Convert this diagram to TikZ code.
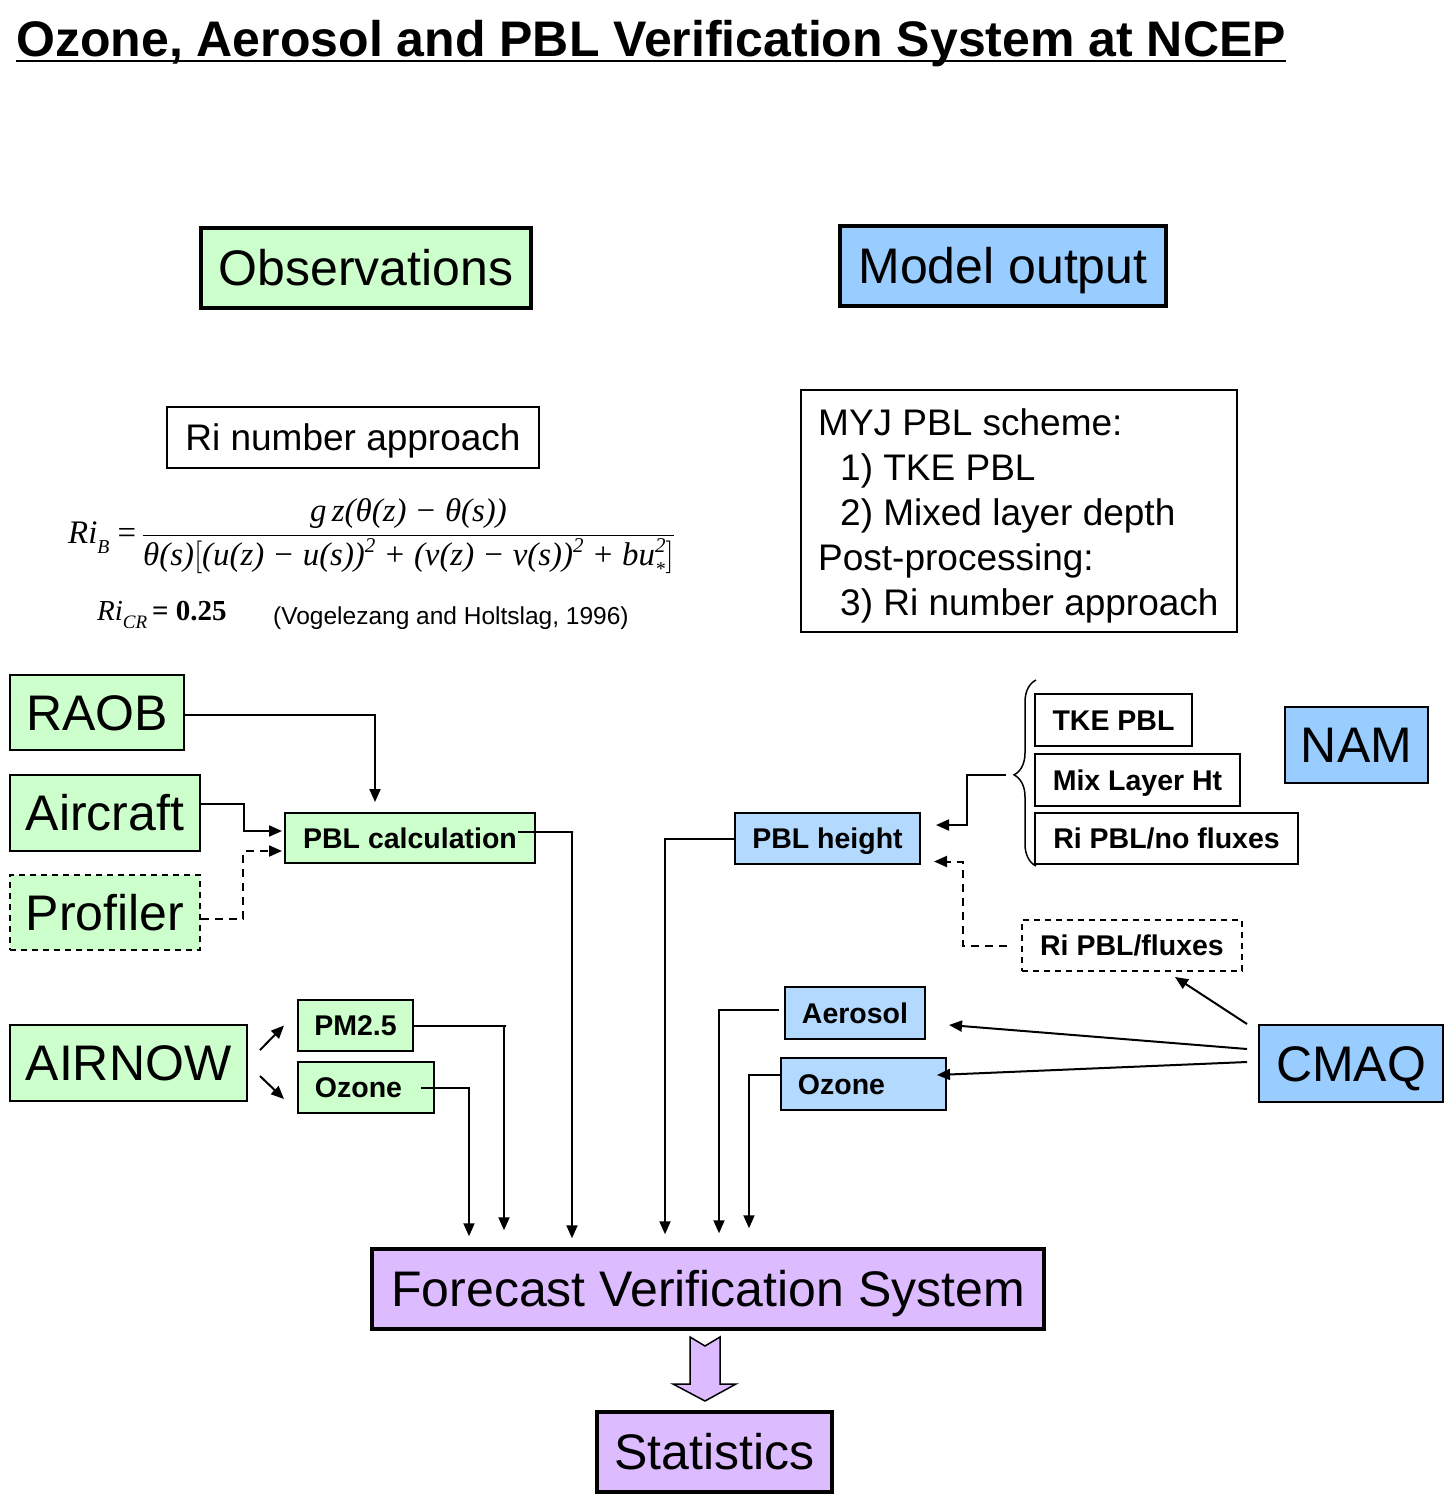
\documentclass[tikz,border=0pt]{standalone}
\usepackage{fontspec}
\setmainfont{Liberation Sans}
\newfontfamily\tms{Liberation Serif}
\usepackage{graphicx}
\usetikzlibrary{arrows.meta,decorations.pathreplacing}
\definecolor{obsgreen}{HTML}{CCFFCC}
\definecolor{modblue}{HTML}{99CCFF}
\definecolor{ltblue}{HTML}{B3D9FF}
\definecolor{fvspurple}{HTML}{DCBCFF}
\newcommand{\sqr}{\raisebox{0.42em}{\fontsize{16}{16}\selectfont 2}}
\newcommand{\lowsub}[2][15]{\raisebox{-0.3em}{\fontsize{#1}{#1}\selectfont #2}}
\begin{document}
\begin{tikzpicture}[x=1pt,y=-1pt,
  box/.style={draw=black,line width=2pt,inner sep=0pt,text depth=0pt},
  thickbox/.style={box,line width=3.5pt},
  wh/.style 2 args={minimum width=#1pt,minimum height=#2pt},
  big/.style={font=\fontsize{50}{60}\selectfont,text height=35.8pt},
  mid/.style={font=\fontsize{37}{45}\selectfont},
  small/.style={font=\fontsize{28.5}{34}\selectfont\bfseries,text height=20.4pt},
  green/.style={fill=obsgreen},
  blue/.style={fill=modblue},
  lblue/.style={fill=ltblue},
  purple/.style={fill=fvspurple},
  dashbox/.style={dash pattern=on 6pt off 5pt},
  conn/.style={line width=2pt,-{Triangle[length=13pt,width=11pt]}},
  dconn/.style={conn,dash pattern=on 8pt off 6pt},
  txt/.style={inner sep=0pt,anchor=base west},
]
\useasboundingbox (0,0) rectangle (1444,1494);

% title
\node[txt,font=\fontsize{50}{60}\selectfont\bfseries] (title) at (16,56) {Ozone, Aerosol and PBL Verification System at NCEP};
\draw[line width=2.5pt] ([yshift=-5pt]title.base west) -- ([yshift=-5pt]title.base east);

% headers
\node[thickbox,green,big,wh={330}{80}] (obs) at (366,268) {Observations};
\node[thickbox,blue,big,wh={326}{80}] (model) at (1003,266) {Model output};

% Ri number approach
\node[box,line width=1.5pt,mid,text height=26.5pt,wh={372}{61}] (ri) at (353,437.5) {Ri number approach};
\node[inner sep=0pt,anchor=west,font=\fontsize{25}{30}\selectfont\tms] (formula) at (68,537) {\resizebox{607pt}{!}{\itshape Ri\lowsub{B}\upshape\ =\,$\displaystyle\frac{\mbox{\itshape g\,z(θ(z) − θ(s))}}{\mbox{\itshape θ(s)}\Bigl[\mbox{\itshape (u(z) − u(s))\sqr\ + (v(z) − v(s))\sqr\ + bu\rlap{\lowsub{*}}\sqr}\Bigr]}$}};
\node[inner sep=0pt,anchor=west,font=\fontsize{29}{34}\selectfont\tms] (ricr) at (97,615) {\itshape Ri\lowsub[19]{CR}\upshape\bfseries\,= 0.25};
\node[inner sep=0pt,anchor=west,font=\fontsize{24.5}{30}\selectfont] (ref) at (273,618) {(Vogelezang and Holtslag, 1996)};

% MYJ box
\node[box,line width=1.5pt,wh={436}{242}] (myj) at (1019,511) {};
\node[txt,mid] (m1) at (818,435) {MYJ PBL scheme:};
\node[txt,mid] (m2) at (840,480) {1) TKE PBL};
\node[txt,mid] (m3) at (840,525) {2) Mixed layer depth};
\node[txt,mid] (m4) at (818,570) {Post-processing:};
\node[txt,mid] (m5) at (840,615) {3) Ri number approach};

% observation boxes
\node[box,green,big,wh={174}{75}] (raob) at (97,712.5) {RAOB};
\node[box,green,big,wh={190}{76}] (aircraft) at (105,813) {Aircraft};
\node[box,green,big,dashbox,wh={190}{75}] (profiler) at (105,912.5) {Profiler};
\node[box,green,small,wh={250}{50}] (pblcalc) at (410,838) {PBL calculation};
\node[box,green,big,wh={237}{76}] (airnow) at (128.5,1063) {AIRNOW};
\node[box,green,small,wh={115}{51}] (pm25) at (355.5,1025.5) {PM2.5};
\node[box,green,small,wh={136}{51}] (ozl) at (366,1087.5) {Ozone\kern15pt};

% model boxes
\node[box,small,wh={157}{52}] (tke) at (1113.5,720) {TKE PBL};
\node[box,small,wh={205}{52}] (mix) at (1137.5,780) {Mix Layer Ht};
\node[box,small,wh={263}{51}] (rinof) at (1166.5,838.5) {Ri PBL/no fluxes};
\node[box,blue,big,wh={143}{76}] (nam) at (1356.5,745) {NAM};
\node[box,lblue,small,wh={185}{51}] (pblh) at (827.5,838.5) {PBL height};
\node[box,small,dashbox,wh={220}{51}] (rif) at (1132,945.5) {Ri PBL/fluxes};
\node[box,lblue,small,wh={140}{52}] (aer) at (855,1013) {Aerosol};
\node[box,lblue,small,wh={165}{52}] (ozr) at (863.5,1084) {Ozone\kern44pt};
\node[box,blue,big,wh={184}{77}] (cmaq) at (1351,1063.5) {CMAQ};

% bottom
\node[thickbox,purple,big,wh={672}{80}] (fvs) at (708,1289) {Forecast Verification System};
\node[thickbox,purple,big,wh={235}{80}] (stats) at (714.5,1452) {Statistics};
\draw[line width=1.5pt,fill=fvspurple] (690,1337) -- (705,1346) -- (720,1337) -- (720,1384) -- (736,1384) -- (705,1401) -- (673,1384) -- (690,1384) -- cycle;

% brace
\draw[line width=1.5pt,decorate,decoration={brace,amplitude=22pt,aspect=0.49}] (1036,866) -- (1036,680);
\coordinate (bt) at (1006,775);

% connectors left
\draw[conn] ([yshift=-2pt]raob.east) -| ([xshift=-35pt,yshift=10pt]pblcalc.north);
\draw[conn] ([yshift=9pt]aircraft.east) -- ++(43,0) |- ([yshift=7pt,xshift=-2pt]pblcalc.west);
\draw[dconn] ([yshift=-6pt]profiler.east) -- ++(42,0) |- ([yshift=-13pt,xshift=-2pt]pblcalc.west);
\draw[conn] ([xshift=-18pt,yshift=6pt]pblcalc.east) -- ++(55,0) -| ([xshift=-136pt,yshift=9pt]fvs.north);
\draw[conn] (pm25.east) -- ++(92,0) -| ([xshift=-204pt,yshift=17pt]fvs.north);
\draw[conn] ([xshift=-14pt]ozl.east) -- ++(46,0) -| ([xshift=-239pt,yshift=11pt]fvs.north);
\draw[conn] ([xshift=12pt,yshift=13pt]airnow.east) -- ([xshift=-13pt]pm25.west);
\draw[conn] ([xshift=12pt,yshift=-13pt]airnow.east) -- ([xshift=-13pt,yshift=-11.5pt]ozl.west);

% connectors right
\draw[conn] (bt) -- ++(-39,0) |- ([xshift=15pt,yshift=13.5pt]pblh.east);
\draw[dconn] ([xshift=-14pt]rif.west) -- ++(-44,0) |- ([xshift=13pt,yshift=-23pt]pblh.east);
\draw[conn] (pblh.west) -- ++(-70,0) -| ([xshift=-43pt,yshift=13pt]fvs.north);
\draw[conn] ([xshift=-11pt,yshift=39.5pt]cmaq.west) -- ([xshift=43pt,yshift=-5pt]rif.south);
\draw[conn] ([xshift=-11pt,yshift=14.5pt]cmaq.west) -- ([xshift=23pt,yshift=-12pt]aer.east);
\draw[conn] ([xshift=-11pt,yshift=1.5pt]cmaq.west) -- ([xshift=-10pt,yshift=9pt]ozr.east);
\draw[conn] ([xshift=-5pt,yshift=3pt]aer.west) -- ++(-61,0) -| ([xshift=11pt,yshift=14pt]fvs.north);
\draw[conn] ([xshift=2pt,yshift=9pt]ozr.west) -- ++(-32,0) -| ([xshift=41pt,yshift=19pt]fvs.north);
\end{tikzpicture}
\end{document}
